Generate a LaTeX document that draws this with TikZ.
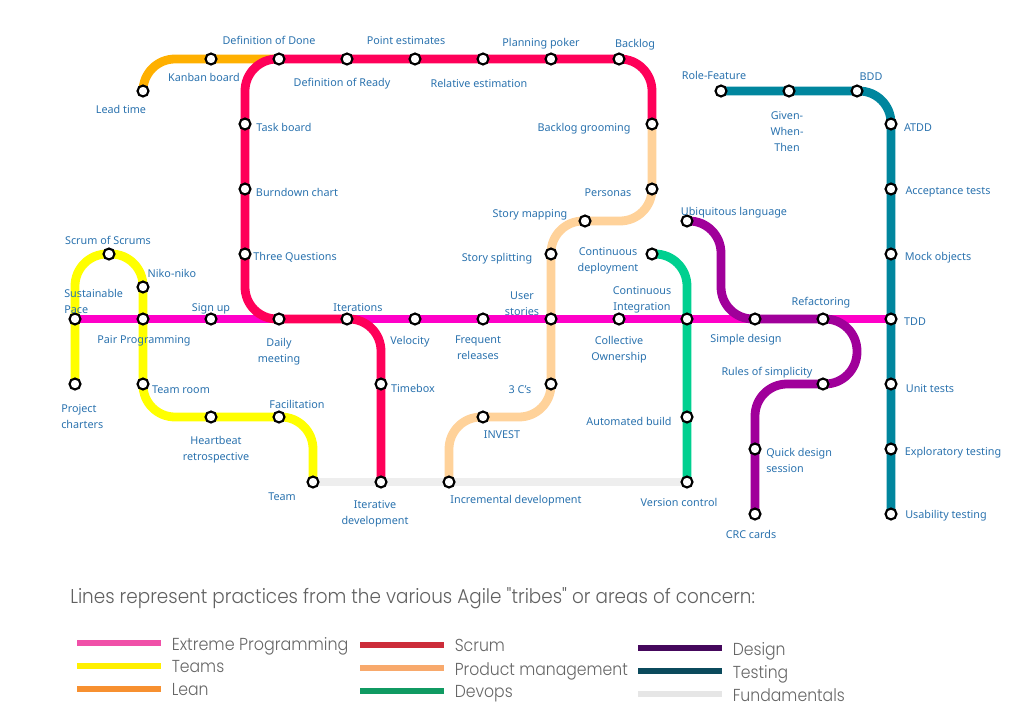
\documentclass[tikz,border=0pt]{standalone}
\usepackage{fontspec}
\setmainfont{Noto Sans}
\newfontfamily\legfont{Poppins Light}
\usetikzlibrary{backgrounds}
\definecolor{labelc}{HTML}{2A72AE}
\definecolor{cxp}{HTML}{FF00C8}
\definecolor{cscrum}{HTML}{FF0059}
\definecolor{clean}{HTML}{FFB000}
\definecolor{cteams}{HTML}{FFFF00}
\definecolor{cprod}{HTML}{FFD29A}
\definecolor{cdev}{HTML}{00D090}
\definecolor{cdes}{HTML}{A0009A}
\definecolor{ctest}{HTML}{00869E}
\definecolor{cfund}{HTML}{EEEEEE}
\tikzset{
  stn/.style={circle,draw=black,fill=white,line width=1.6pt,minimum size=8.2pt,inner sep=0pt},
  lab/.style={text=labelc,font=\fontsize{8.1}{12}\selectfont,inner sep=0pt,align=center},
  labl/.style={lab,align=left},
  route/.style={line width=6.6pt,rounded corners=24pt},
  legtitle/.style={text=black!62,font=\legfont\fontsize{15}{18}\selectfont,inner sep=0pt,anchor=west},
  legtext/.style={text=black!60,font=\legfont\fontsize{13}{15}\selectfont,inner sep=0pt,anchor=west},
  legbar/.style={minimum width=63pt,minimum height=5.2pt,inner sep=0pt,anchor=west},
}
\begin{document}
\begin{tikzpicture}[x=0.75pt,y=-0.75pt]
\useasboundingbox (0,0) rectangle (1032,725);
% stations
\foreach \n/\x/\y in {
 lt/143/91,kb/211/59,dod/279/59,dor/347/59,pe/415/59,re/483/59,pp/551/59,bl/619/59,
 tb/245/124,bc/245/189,tq/245/254,daily/279/319,iter/347/319,tbx/381/384,idev/381/482,
 groom/652/124,pers/652/189,smap/585/221,ssplit/551/254,ustor/551/319,tc/551/384,inv/483/417,incr/449/482,
 team/313/482,vc/687/482,
 pc/75/384,sp/75/319,sos/109/254,niko/143/287,pair/143/319,room/143/384,heart/211/417,fac/279/417,
 signup/211/319,vel/415/319,freq/483/319,coll/619/319,ci/687/319,simple/755/319,refac/823/319,tdd/891/319,
 cd/652/254,auto/687/417,
 ubiq/687/221,rules/823/384,quick/755/449,crc/755/514,
 role/721/91,gwt/789/91,bdd/857/91,atdd/891/124,acc/891/189,mock/891/254,unit/891/384,expl/891/449,usab/891/514}
 {\node[stn] (\n) at (\x,\y) {};}
\coordinate (desA) at (721,221);
\coordinate (desB) at (721,319);
\coordinate (desC) at (857,319);
\coordinate (desD) at (857,384);
\coordinate (desE) at (755,384);
% routes
\begin{scope}[on background layer]
\draw[line width=6pt,cfund] (team.center) -- (vc.center);
\draw[route,clean] (lt.center) -- (lt.center|-kb.center) -- (dod.center);
\draw[route,cteams] (pc.center) -- (sp.center|-sos.center) -- (niko.center|-sos.center) -- (room.center|-heart.center) -- (team.center|-fac.center) -- (team.center);
\draw[route,cprod] (groom.center) -- (pers.center|-smap.center) -- (ssplit.center|-smap.center) -- (tc.center|-inv.center) -- (incr.center|-inv.center) -- (incr.center);
\draw[route,cdev] (cd.center) -- (ci.center|-cd.center) -- (vc.center);
\draw[route,ctest] (role.center) -- (atdd.center|-role.center) -- (usab.center);
\draw[route,cxp] (sp.center) -- (tdd.center);
\draw[route,cscrum] (groom.center) -- (groom.center|-bl.center) -- (tb.center|-bl.center) -- (tb.center|-daily.center) -- (tbx.center|-daily.center) -- (idev.center);
\draw[route,cdes] (ubiq.center) -- (desA) -- (desB) -- (desC) -- (desD) -- (desE) -- (crc.center);
\end{scope}
% labels
\foreach \n/\x/\y/\t in {
 l1/269/40/Definition of Done, l2/204/77/Kanban board, l3/121/109/Lead time, l4/406/40/Point estimates,
 l5/342/82/Definition of Ready, l6/479/83/Relative estimation, l7/541/42/Planning poker, l8/635/43/Backlog,
 l9/284/127/Task board, l10/297/192/Burndown chart, l11/295/256/Three Questions, l12/584/127/Backlog grooming,
 l13/608/192/Personas, l14/530/213/Story mapping, l15/497/257/Story splitting, l16/608/259/Continuous\\deployment,
 l17/734/211/Ubiquitous language, l18/714/75/Role-Feature, l19/787/131/Given-\\When-\\Then, l20/871/76/BDD,
 l21/918/127/ATDD, l22/948/190/Acceptance tests, l23/938/256/Mock objects, l24/915/321/TDD, l25/930/388/Unit tests,
 l26/953/451/Exploratory testing, l27/946/514/Usability testing, l28/108/240/Scrum of Scrums, l29/172/273/Niko-niko,
 l31/211/307/Sign up, l32/358/307/Iterations, l33/522/303/User\\stories, l34/642/298/Continuous\\Integration,
 l35/144/339/Pair Programming, l36/279/350/Daily\\meeting, l37/410/340/Velocity, l38/478/347/Frequent\\releases,
 l39/619/348/Collective\\Ownership, l40/746/338/Simple design, l41/821/301/Refactoring, l42/767/371/Rules of simplicity,
 l43/181/389/Team room, l44/413/388/Timebox, l45/520/389/3 C's, l46/502/434/INVEST, l47/629/421/Automated build,
 l48/297/404/Facilitation, l49/216/448/Heartbeat\\retrospective, l50/282/496/Team, l51/375/512/Iterative\\development,
 l52/516/499/Incremental development, l53/679/502/Version control, l54/751/534/CRC cards}
 {\node[lab] (\n) at (\x,\y+1) {\strut\t\strut};}
\node[labl,anchor=west] (l30) at (64,302) {\strut Sustainable\\Pace\strut};
\node[labl,anchor=west] (l55) at (766,461) {\strut Quick design\\session\strut};
\node[labl,anchor=west] (l56) at (61,417) {\strut Project\\charters\strut};
% legend
\node[legtitle] (ltitle) at (70,598) {\scalebox{0.92}[1]{\vphantom{Ag}Lines represent practices from the various Agile "tribes" or areas of concern:}};
\foreach \n/\x/\y/\c/\s/\t in {
 a/77/643/F050A8/0.92/Extreme Programming, b/77/666/FFF000/0.904/Teams, c/77/689/F79030/0.904/Lean,
 d/360/645/CC2C3A/0.904/Scrum, e/360/668/F8A96C/0.904/Product management, f/360/691/109A62/0.904/Devops,
 g/638/648/45085C/0.904/Design, h/638/671/0B4A5C/0.904/Testing, i/638/694/E6E6E6/0.904/Fundamentals}
 {\definecolor{tmpc}{HTML}{\c}
  \node[legbar,fill=tmpc] (bar\n) at (\x,\y) {};
  \node[legtext] (txt\n) at (\x+94.5,\y+3) {\scalebox{\s}[1]{\vphantom{Ag}\t}};}
\end{tikzpicture}
\end{document}
